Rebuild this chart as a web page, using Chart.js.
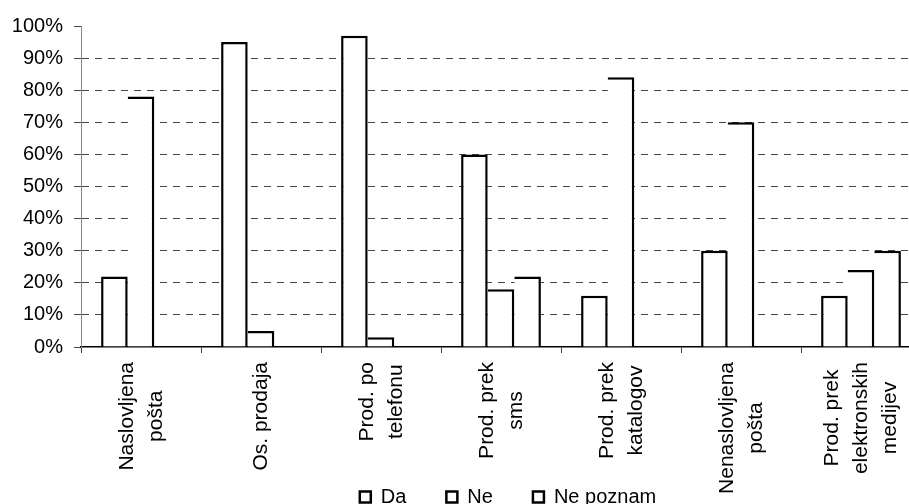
<!DOCTYPE html>
<html>
<head>
<meta charset="utf-8">
<script src="https://cdn.jsdelivr.net/npm/chart.js@4.4.1/dist/chart.umd.min.js"></script>
<style>
  html, body { margin: 0; padding: 0; background: #fff; overflow: hidden; width: 909px; height: 504px; }
  canvas { display: block; }
</style>
</head>
<body>
<canvas id="chart" width="921" height="504"></canvas>
<script>
// Category labels (one entry per line of each label)
const categories = [
  ['Naslovljena', 'pošta'],
  ['Os. prodaja'],
  ['Prod. po', 'telefonu'],
  ['Prod. prek', 'sms'],
  ['Prod. prek', 'katalogov'],
  ['Nenaslovljena', 'pošta'],
  ['Prod. prek', 'elektronskih', 'medijev']
];
const seriesNames = ['Da', 'Ne', 'Ne poznam'];

// Shares in percent
const da       = [22, 95, 97, 60, 16, 30, 16];
const ne       = [78,  5,  3, 18, 84, 70, 24];
const nePoznam = [ 0,  0,  0, 22,  0,  0, 30];

const FONT = '"Liberation Sans", Arial, sans-serif';
const PLOT_BOTTOM = 347;
const OUTLINE = 2.5;

Chart.defaults.font.family = FONT;
Chart.defaults.color = '#000';

// Rotated, multi-line category labels centred under each group
const categoryLabels = {
  id: 'categoryLabels',
  afterDraw(chart) {
    const ctx = chart.ctx;
    const xScale = chart.scales.x;
    const lineGap = 29;
    const top = 362;
    ctx.save();
    ctx.font = '21px ' + FONT;
    ctx.fillStyle = '#000';
    ctx.textAlign = 'center';
    ctx.textBaseline = 'alphabetic';
    categories.forEach((lines, i) => {
      const cx = xScale.getPixelForValue(i);
      const widest = Math.max(...lines.map(l => ctx.measureText(l).width));
      const cy = top + widest / 2;
      lines.forEach((line, j) => {
        const bx = cx + 6 + (j - (lines.length - 1) / 2) * lineGap;
        ctx.save();
        ctx.translate(bx, cy);
        ctx.rotate(-Math.PI / 2);
        ctx.fillText(line, 0, 0);
        ctx.restore();
      });
    });
    ctx.restore();
  }
};

// Puts the legend row just under the category labels
const legendPlacement = {
  id: 'legendPlacement',
  afterLayout(chart) {
    const lg = chart.legend;
    if (!lg) return;
    const w = lg.right - lg.left;
    const h = lg.bottom - lg.top;
    const centerX = 508;
    const itemMidY = 497;
    const pad = lg.options.labels.padding;
    lg.left = centerX - w / 2;
    lg.right = lg.left + w;
    lg.top = itemMidY - pad - 10;
    lg.bottom = lg.top + h;
  }
};

// Neighbouring bars share one outline: only the first bar of a group draws its left edge
const firstBarBorder = { top: OUTLINE, right: OUTLINE, bottom: 0, left: OUTLINE };
const nextBarBorder  = { top: OUTLINE, right: OUTLINE, bottom: 0, left: 0 };

function series(label, data, borderWidth) {
  return {
    label, data, borderWidth,
    borderSkipped: false,
    backgroundColor: '#fff',
    borderColor: '#000',
    barPercentage: 1,
    categoryPercentage: 0.665
  };
}

new Chart(document.getElementById('chart'), {
  type: 'bar',
  data: {
    labels: categories,
    datasets: [
      series(seriesNames[0], da, firstBarBorder),
      series(seriesNames[1], ne, nextBarBorder),
      series(seriesNames[2], nePoznam, nextBarBorder)
    ]
  },
  options: {
    responsive: false,
    animation: false,
    events: [],
    layout: { padding: { top: 26, left: 0, right: 0, bottom: 0 } },
    scales: {
      x: {
        offset: true,
        z: 1,
        ticks: { display: false },
        grid: {
          display: true,
          offset: true,
          drawOnChartArea: false,
          drawTicks: true,
          tickLength: 6,
          tickColor: '#444',
          tickWidth: 1
        },
        border: { display: true, color: '#000', width: 1.5 },
        afterFit: s => {
          s.height = 504 - PLOT_BOTTOM - (s.chart.legend ? s.chart.legend.height : 0);
        }
      },
      y: {
        min: 0,
        max: 100,
        ticks: {
          stepSize: 10,
          padding: 11,
          color: '#000',
          font: { family: FONT, size: 20 },
          callback: v => v + '%'
        },
        grid: {
          color: c => (c.tick && c.tick.value > 0 && c.tick.value < 100) ? '#444' : 'rgba(0,0,0,0)',
          lineWidth: 1,
          drawTicks: true,
          tickLength: 7,
          tickColor: '#444',
          tickWidth: 1
        },
        border: { display: true, color: '#888', width: 1, dash: [7, 6] },
        afterFit: s => { s.width = 81; }
      }
    },
    plugins: {
      tooltip: { enabled: false },
      legend: {
        position: 'bottom',
        labels: {
          boxWidth: 11,
          boxHeight: 11,
          padding: 40,
          color: '#000',
          font: { family: FONT, size: 20 },
          generateLabels: chart => Chart.defaults.plugins.legend.labels.generateLabels(chart)
            .map(item => Object.assign(item, { lineWidth: OUTLINE, strokeStyle: '#000', fillStyle: '#fff' }))
        }
      }
    }
  },
  plugins: [categoryLabels, legendPlacement]
});
</script>
</body>
</html>
